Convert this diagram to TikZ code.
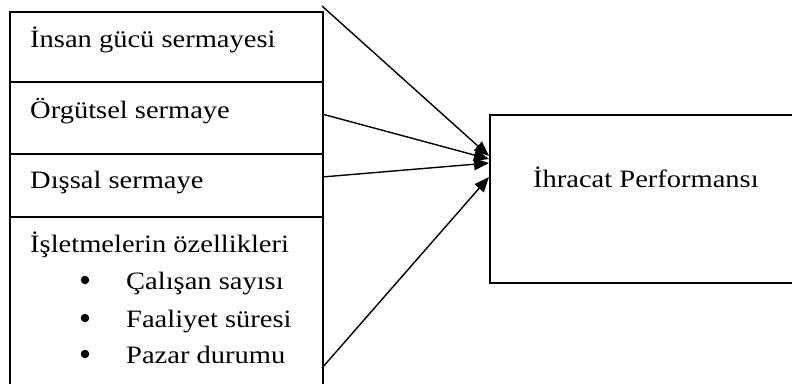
\documentclass[tikz,border=0pt]{standalone}
\usepackage{fontspec}
\setmainfont{Liberation Serif}[FakeStretch=1.14]
\usetikzlibrary{arrows.meta}
\begin{document}
\begin{tikzpicture}[x=1pt,y=-1pt,
  frame/.style={draw,line width=1.6pt,anchor=north west,inner sep=0pt},
  label/.style={anchor=base west,inner sep=0pt,font=\fontsize{25}{28}\selectfont},
  dot/.style={circle,fill,inner sep=0pt,minimum size=8.5pt},
  link/.style={line width=1.4pt,-{Triangle[length=15pt,width=12pt]}}]
  \useasboundingbox (0,0) rectangle (792,383);
  % stacked factor boxes, the last one open at the bottom
  \node[frame,minimum width=313pt,minimum height=70pt] (b1) at (9,11) {};
  \node[frame,minimum width=313pt,minimum height=72pt] (b2) at (9,81) {};
  \node[frame,minimum width=313pt,minimum height=63pt] (b3) at (9,153) {};
  \node[frame,minimum width=313pt,minimum height=190pt] (b4) at (9,216) {};
  % outcome box, running off the right edge
  \node[frame,minimum width=320pt,minimum height=168pt] (perf) at (489,114) {};
  % texts
  \node[label] (t1) at (30,47) {İnsan gücü sermayesi};
  \node[label] (t2) at (30,118) {Örgütsel sermaye};
  \node[label] (t3) at (30,188) {Dışsal sermaye};
  \node[label] (t4) at (30,252) {İşletmelerin özellikleri};
  \node[label] (t5) at (126,289) {Çalışan sayısı};
  \node[label] (t6) at (126,327) {Faaliyet süresi};
  \node[label] (t7) at (126,363) {Pazar durumu};
  \node[label] (tp) at (533,187) {İhracat Performansı};
  \node[dot] (d5) at (85,280) {};
  \node[dot] (d6) at (85,318) {};
  \node[dot] (d7) at (85,354) {};
  % arrow start and end points
  \coordinate (s1) at (322,6);
  \coordinate (s2) at (322,114);
  \coordinate (s3) at (322,177);
  \coordinate (s4) at (322,368);
  \coordinate (e1) at (489,156);
  \coordinate (e2) at (489,159);
  \coordinate (e3) at (489,163);
  \coordinate (e4) at (489,177);
  \draw[link] (s1) -- (e1);
  \draw[link] (s2) -- (e2);
  \draw[link] (s3) -- (e3);
  \draw[link] (s4) -- (e4);
\end{tikzpicture}
\end{document}
